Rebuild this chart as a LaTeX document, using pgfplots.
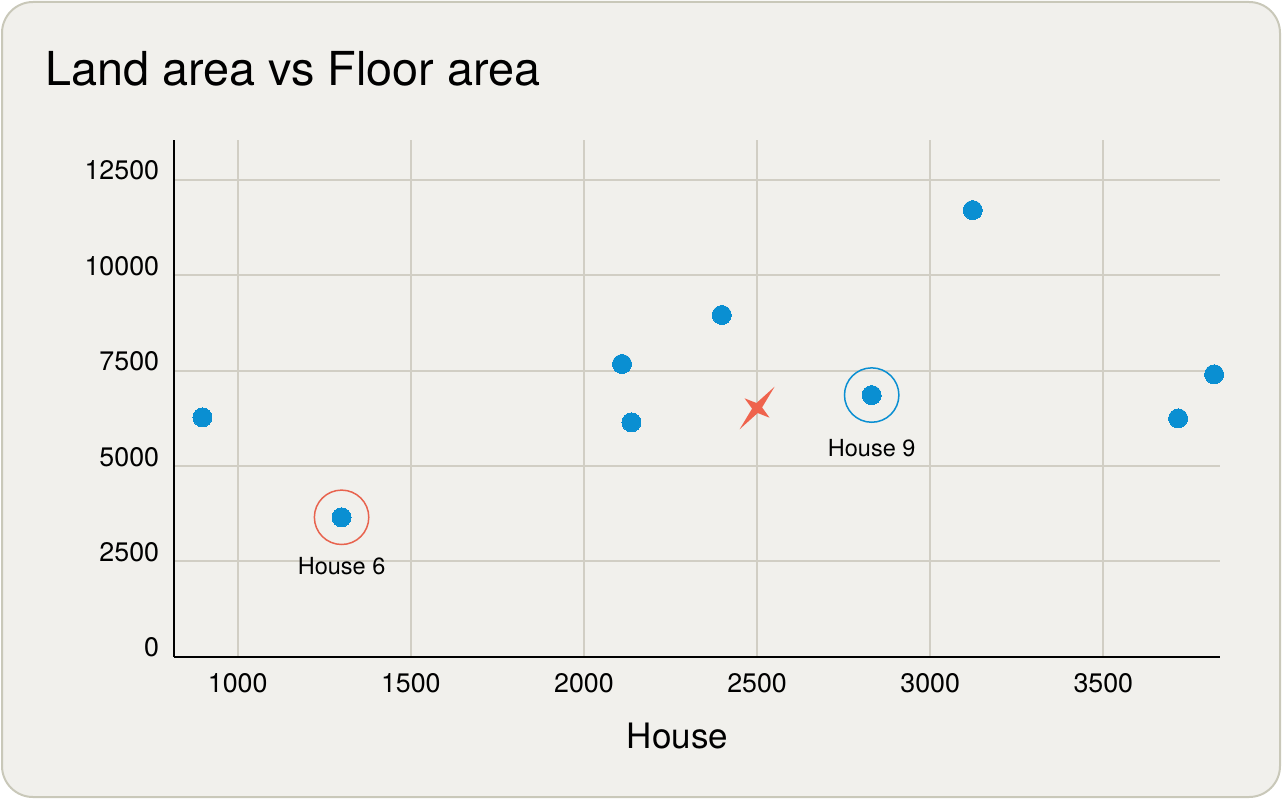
\documentclass[border=0pt]{standalone}
\usepackage{fontspec}
\setmainfont{TeX Gyre Heros}
\usepackage{pgfplots}
\pgfplotsset{compat=1.18}
\definecolor{bg}{HTML}{F1F0EC}
\definecolor{framec}{HTML}{C9C8B9}
\definecolor{gridc}{HTML}{D1CEC4}
\definecolor{dotblue}{HTML}{0A8FD2}
\definecolor{hlred}{HTML}{E8634E}
\definecolor{starred}{HTML}{EF634D}
\pgfdeclareplotmark{star4}{%
  \pgfpathmoveto{\pgfqpoint{8.75pt}{10.65pt}}%
  \pgfpathlineto{\pgfqpoint{2.5pt}{0.3pt}}%
  \pgfpathlineto{\pgfqpoint{6.25pt}{-4.85pt}}%
  \pgfpathlineto{\pgfqpoint{0.3pt}{-2.5pt}}%
  \pgfpathlineto{\pgfqpoint{-8.75pt}{-10.65pt}}%
  \pgfpathlineto{\pgfqpoint{-2.5pt}{-0.3pt}}%
  \pgfpathlineto{\pgfqpoint{-6.25pt}{4.85pt}}%
  \pgfpathlineto{\pgfqpoint{-0.3pt}{2.5pt}}%
  \pgfpathclose
  \pgfusepathqfill}
\begin{document}
\begin{tikzpicture}
\path[use as bounding box] (0,0) rectangle (641.5pt,400pt);
\draw[framec, fill=bg, line width=1pt, rounded corners=15.5pt] (1pt,1.5pt) rectangle (640pt,399pt);
\node[anchor=base west, inner sep=0pt, font=\fontsize{23.4}{27}\selectfont] at (22.3pt,357.5pt) {Land area vs Floor area};
\begin{axis}[
  at={(87pt,71.65pt)}, anchor=south west,
  scale only axis, width=523pt, height=258.35pt,
  xmin=816, xmax=3837, ymin=0, ymax=13547,
  axis x line*=bottom, axis y line*=left,
  axis line style={black, line width=1pt, -},
  xtick={1000,1500,2000,2500,3000,3500},
  ytick={0,2500,5000,7500,10000,12500},
  grid=major, major grid style={gridc, line width=1pt},
  major tick length=0pt,
  scaled ticks=false,
  /pgf/number format/1000 sep={},
  /pgf/number format/assume math mode=true,
  tick label style={font=\fontsize{13.4}{16}\selectfont, inner sep=0pt},
  xticklabel style={anchor=base, yshift=-18pt},
  yticklabel style={anchor=base east, xshift=-7.25pt},
  xlabel={House},
  xlabel style={at={(axis description cs:0.4814,0)}, anchor=base, yshift=-45.65pt, font=\fontsize{17.5}{21}\selectfont, inner sep=0pt},
  clip=false,
]
\addplot[color=dotblue, only marks, mark=*, mark size=4.75pt, mark options={draw=dotblue, fill=dotblue, line width=0pt}] coordinates {
  (898,6275) (1300,3655) (2110,7675) (2137,6145) (2398,8960)
  (2831,6860) (3123,11710) (3716,6250) (3820,7405)
};
\addplot[color=hlred, only marks, mark=o, mark size=13.6pt, mark options={draw=hlred, line width=0.75pt, fill=none},
  nodes near coords={House 6},
  every node near coord/.append style={anchor=base, yshift=-28.5pt, text=black, inner sep=0pt, font=\fontsize{11.75}{14}\selectfont}]
  coordinates {(1300,3655)};
\addplot[color=dotblue, only marks, mark=o, mark size=13.6pt, mark options={draw=dotblue, line width=0.75pt, fill=none},
  nodes near coords={House 9},
  every node near coord/.append style={anchor=base, yshift=-30.5pt, text=black, inner sep=0pt, font=\fontsize{11.75}{14}\selectfont}]
  coordinates {(2831,6860)};
\addplot[only marks, mark=star4, color=starred, mark options={fill=starred, draw=none}] coordinates {(2500,6520)};
\end{axis}
\end{tikzpicture}
\end{document}
